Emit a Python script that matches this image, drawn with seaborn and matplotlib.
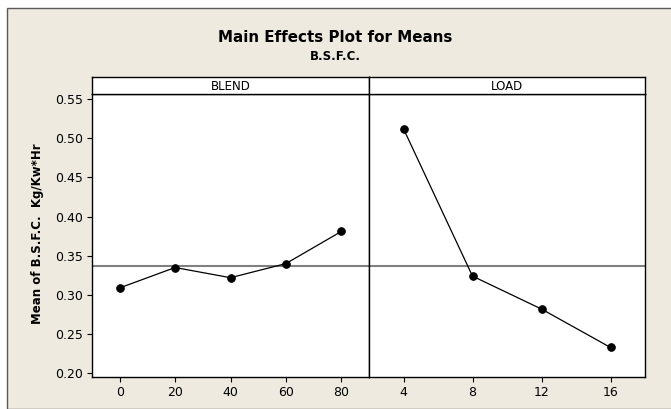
import numpy as np
import pandas as pd
import matplotlib
matplotlib.use("Agg")
import matplotlib.pyplot as plt
from matplotlib.patches import Rectangle
import seaborn as sns

# Factor levels and the mean response at each level
blend_levels = ["0", "20", "40", "60", "80"]
blend_means = [0.309, 0.335, 0.322, 0.340, 0.381]
load_levels = ["4", "8", "12", "16"]
load_means = [0.512, 0.324, 0.282, 0.233]

y_ticks = [0.20, 0.25, 0.30, 0.35, 0.40, 0.45, 0.50, 0.55]

grand_mean = np.mean(blend_means)

sns.set_style("white")
plt.rcParams["font.family"] = ["DejaVu Sans"]
plt.rcParams["text.color"] = "black"

W, H = 671, 409
fig = plt.figure(figsize=(W / 100, H / 100), dpi=100)
fig.patch.set_facecolor("white")

# Beige panel background with a thin dark border on top and left
fig.patches.append(Rectangle((7 / W, 0), 1.0, 1 - 8 / H, transform=fig.transFigure,
                             facecolor="#EEEAE0", edgecolor="#5a5a5a", linewidth=1.0,
                             zorder=-10))

ax_bottom = (H - 377) / H
ax_height = (377 - 94) / H
strip_h = (94 - 77) / H
panels = [
    (92 / W, 277 / W, "BLEND", blend_levels, blend_means),
    (369 / W, 276 / W, "LOAD", load_levels, load_means),
]

for i, (left, width, name, levels, means) in enumerate(panels):
    ax = fig.add_axes([left, ax_bottom, width, ax_height])
    ax.set_facecolor("white")
    df = pd.DataFrame({"level": levels, "mean": means})
    ax.axhline(grand_mean, color="#808080", linewidth=1.5, zorder=1)
    sns.pointplot(data=df, x="level", y="mean", order=levels, color="black",
                  markers="o", markersize=5.5, linewidth=0.9, ax=ax, zorder=3)
    ax.set_xlim(-0.5, len(levels) - 0.5)
    ax.set_ylim(0.1953, 0.5564)
    ax.set_xlabel("")
    ax.set_ylabel("")
    for s in ax.spines.values():
        s.set_color("black")
        s.set_linewidth(1.0)
    ax.tick_params(axis="x", direction="out", length=3.3, width=0.8,
                   pad=3.3, labelsize=9, colors="black", bottom=True)
    if i == 0:
        ax.set_yticks(y_ticks)
        ax.set_yticklabels([f"{v:.2f}" for v in y_ticks])
        ax.tick_params(axis="y", direction="out", length=3.3, width=0.8,
                       pad=3.0, labelsize=9, colors="black", left=True)
    else:
        ax.set_yticks([])
    # Facet strip above each panel
    sax = fig.add_axes([left, ax_bottom + ax_height, width, strip_h])
    sax.set_facecolor("white")
    sax.set_xticks([])
    sax.set_yticks([])
    for s in sax.spines.values():
        s.set_color("black")
        s.set_linewidth(1.0)
    sax.text(0.5, 0.45, name, ha="center", va="center", fontsize=8.5,
             color="black", transform=sax.transAxes)

fig.text(0.5, 1 - 37 / H, "Main Effects Plot for Means", ha="center", va="center",
         fontsize=10.9, fontweight="bold", color="black")
fig.text(0.5, 1 - 56 / H, "B.S.F.C.", ha="center", va="center",
         fontsize=8.5, fontweight="bold", color="black")
fig.text(38 / W, 1 - 234 / H, "Mean of B.S.F.C.  Kg/Kw*Hr", ha="center", va="center",
         rotation=90, fontsize=8.5, fontweight="bold", color="black")

fig.savefig("out.png", dpi=100, facecolor=fig.get_facecolor())
